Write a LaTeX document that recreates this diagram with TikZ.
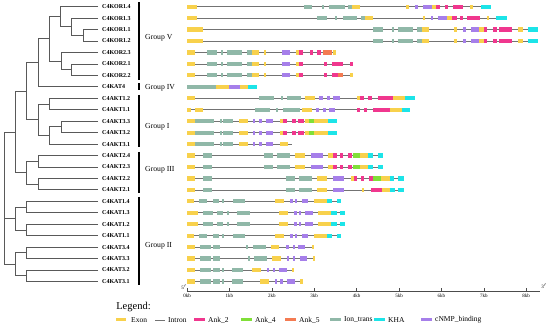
\documentclass[tikz,border=0pt]{standalone}
\usepackage{fontspec}
\setmainfont{Liberation Serif}
\usepackage{tikz}
\usetikzlibrary{calc}

% domain colours
\definecolor{exon}{HTML}{F8D14C}
\definecolor{ank2}{HTML}{F0378E}
\definecolor{ank4}{HTML}{80DF38}
\definecolor{ank5}{HTML}{F47B52}
\definecolor{iont}{HTML}{90B8A8}
\definecolor{kha}{HTML}{1CE4E8}
\definecolor{cnmp}{HTML}{A67FEA}

% one gene row: #1 row index, #2 start, #3 end, #4 boxes a/b/colour
\newcommand{\genestr}[4]{%
  \pgfmathsetmacro{\ry}{6.7+11.45*#1}
  \draw[intron] (#2,\ry) -- (#3,\ry);
  \foreach \a/\b/\c in {#4}{\fill[fill=\c] (\a,\ry-2.1) rectangle (\b,\ry+2.1);}
}

\begin{document}
\begin{tikzpicture}[x=1pt,y=-1pt,
  branch/.style={draw=black!65, line width=0.8pt},
  gname/.style={font=\fontsize{6}{7}\selectfont\bfseries, anchor=west, inner sep=0pt},
  grplbl/.style={font=\fontsize{7.7}{9}\selectfont, anchor=west, inner sep=0pt},
  grpbar/.style={line width=1.2pt},
  intron/.style={draw=black!55, line width=0.6pt},
  axislbl/.style={font=\fontsize{5}{6}\selectfont, inner sep=0pt},
  legtxt/.style={font=\fontsize{7.5}{9}\selectfont, anchor=west, inner sep=0pt}]

\useasboundingbox (0,0) rectangle (550,328);

%-------------------------------------------------------------------
% Tree: clade x / top y / bottom y / top child x / bottom child x
\foreach \x/\ya/\yb/\xa/\xb in {
    83.3/29.6/41.05/98/98, 71.7/18.15/35.3/98/83.3, 60/6.7/26.7/98/71.7,
    71.7/63.95/75.4/98/98, 61/52.5/69.7/98/71.7, 49.3/16.7/61.1/60/61,
    38.3/38.9/86.85/49.3/98,
    49.3/98.3/109.75/98/98, 61/121.2/132.65/98/98, 49.3/126.9/144.1/61/98,
    38.3/104/135.5/49.3/49.3, 26.7/62.9/119.8/38.3/38.3,
    38.3/155.55/167/98/98, 38.3/178.45/189.9/98/98, 26.7/161.3/184.2/38.3/38.3,
    15/91.3/172.7/26.7/26.7,
    26.7/201.35/212.8/98/98, 26.7/224.25/235.7/98/98, 15/207.1/230/26.7/26.7,
    26.7/247.15/258.6/98/98, 26.7/270.05/281.5/98/98, 15/252.9/275.8/26.7/26.7}{
  \draw[branch] (\xa,\ya) -- (\x,\ya) -- (\x,\yb) -- (\xb,\yb);
}
% root (three branches)
\draw[branch] (15,132) -- (4,132) -- (4,264.3) -- (15,264.3);
\draw[branch] (4,218.5) -- (15,218.5);

% gene names
\foreach \i/\n in {0/C4KOR1.4, 1/C4KOR1.3, 2/C4KOR1.1, 3/C4KOR1.2, 4/C4KOR2.3,
    5/C4KOR2.1, 6/C4KOR2.2, 7/C4KAT4, 8/C4AKT1.2, 9/C4AKT1.1, 10/C4AKT3.3,
    11/C4AKT3.2, 12/C4AKT3.1, 13/C4AKT2.4, 14/C4AKT2.3, 15/C4AKT2.2,
    16/C4AKT2.1, 17/C4KAT1.4, 18/C4KAT1.3, 19/C4KAT1.2, 20/C4KAT1.1,
    21/C4KAT3.4, 22/C4KAT3.3, 23/C4KAT3.2, 24/C4KAT3.1}{
  \node[gname] (g\i) at (102,6.7+11.45*\i) {\n};
}

% group bars
\foreach \ya/\yb/\g/\ym in {2.5/80/V/37.5, 83.5/90.5/IV/87.5, 95/147.5/I/127,
    152/193/III/170, 197/285/II/246}{
  \draw[grpbar] (139,\ya) -- (139,\yb);
  \node[grplbl] (grp\g) at (145,\ym) {Group \g};
}

%-------------------------------------------------------------------
% Gene structures
\genestr{0}{187}{491}{187/197/exon, 304/312/iont, 322/324/iont, 329/345/iont, 348/352/iont, 352/360/exon, 406/409/exon, 415/418/cnmp, 423/432/cnmp, 432/436/exon, 436/440/ank2, 445/448/ank2, 453/463/ank2, 470/473/exon, 481/491/kha}
\genestr{1}{187}{507}{187/197/exon, 317/327/iont, 335/337/iont, 343/357/iont, 361/365/iont, 365/373/exon, 423/425/exon, 431/433/cnmp, 438/447/cnmp, 447/452/exon, 452/457/ank2, 460/463/ank2, 467/480/ank2, 487/489/exon, 496/507/kha}
\foreach \r in {2,3}{
\genestr{\r}{187}{538}{187/203/exon, 373/383/iont, 392/394/iont, 398/413/iont, 417/422/iont, 422/429/exon, 454/457/exon, 463/466/cnmp, 471/479/cnmp, 479/484/exon, 484/487/ank2, 493/497/ank2, 499/512/ank2, 518/523/exon, 528/538/kha}
}
\genestr{4}{187}{336}{187/195/exon, 207/217/iont, 221/223/iont, 227/242/iont, 247/252/iont, 252/259/exon, 264/266/exon, 282/290/cnmp, 296/299/exon, 299/303/ank2, 310/313/ank2, 317/321/ank2, 323/332/ank5, 333/336/exon}
\genestr{5}{187}{353}{187/195/exon, 207/217/iont, 221/223/iont, 227/242/iont, 247/252/iont, 252/259/exon, 264/266/exon, 282/290/cnmp, 296/299/exon, 299/303/ank2, 324/327/ank2, 332/343/ank2, 350/353/ank2}
\genestr{6}{187}{353}{187/195/exon, 207/217/iont, 221/223/iont, 227/242/iont, 247/252/iont, 252/259/exon, 264/266/exon, 282/290/cnmp, 296/299/exon, 299/303/ank2, 324/327/ank2, 332/338/ank2, 338/343/ank5, 350/353/exon}
\genestr{7}{187}{257}{187/216/iont, 216/229/exon, 229/240/cnmp, 240/248/exon, 248/257/kha}
\genestr{8}{187}{415}{187/195/exon, 259/274/iont, 281/283/iont, 287/301/iont, 305/315/exon, 319/323/cnmp, 327/330/cnmp, 333/340/cnmp, 357/360/exon, 360/364/ank2, 368/372/ank2, 378/393/ank2, 393/405/exon, 405/415/kha}
\genestr{9}{187}{410}{187/191/exon, 195/203/exon, 255/270/iont, 276/278/iont, 283/300/iont, 302/312/exon, 316/319/cnmp, 323/326/cnmp, 329/335/cnmp, 357/360/ank2, 364/367/ank2, 373/390/ank2, 390/402/exon, 402/410/kha}
\foreach \r in {10,11}{
\genestr{\r}{187}{337}{187/195/exon, 195/214/iont, 220/222/iont, 223/233/iont, 239/248/exon, 253/255/cnmp, 259/262/cnmp, 266/273/cnmp, 280/283/exon, 283/287/ank2, 292/296/ank2, 298/304/ank2, 305/309/exon, 309/314/ank4, 314/328/exon, 328/337/kha}
}
\genestr{12}{187}{292}{187/195/exon, 195/214/iont, 220/222/iont, 223/233/iont, 239/248/exon, 253/255/cnmp, 259/262/cnmp, 266/273/cnmp, 280/288/exon}
\foreach \r in {13,14}{
\genestr{\r}{187}{383}{187/195/exon, 203/212/iont, 264/273/iont, 277/290/iont, 295/305/exon, 311/323/cnmp, 328/333/exon, 333/337/ank2, 340/343/ank2, 348/352/ank2, 353/360/ank4, 360/368/exon, 368/373/kha, 378/383/kha}
}
\genestr{15}{187}{404}{187/195/exon, 203/212/iont, 286/295/iont, 299/312/iont, 317/327/exon, 333/344/cnmp, 351/354/exon, 354/357/ank2, 361/364/ank2, 369/373/ank2, 373/381/ank4, 381/390/exon, 390/394/kha, 398/404/kha}
\genestr{16}{187}{404}{187/195/exon, 203/212/iont, 286/295/iont, 299/312/iont, 317/327/exon, 333/344/cnmp, 362/364/exon, 371/382/ank2, 382/390/exon, 390/395/kha, 398/404/kha}
\foreach \r in {17,20}{
\genestr{\r}{187}{341}{187/194/exon, 199/207/iont, 213/219/iont, 222/224/iont, 233/245/iont, 275/284/exon, 290/293/cnmp, 295/297/cnmp, 302/308/cnmp, 314/327/exon, 327/332/kha, 337/341/kha}
}
\foreach \r in {18,19}{
\genestr{\r}{187}{345}{187/198/exon, 203/213/iont, 217/223/iont, 227/229/iont, 237/250/iont, 279/288/exon, 294/297/cnmp, 299/301/cnmp, 305/313/cnmp, 318/331/exon, 331/337/kha, 340/345/kha}
}
\genestr{21}{187}{314}{187/195/exon, 200/211/iont, 213/220/iont, 246/248/iont, 253/266/iont, 271/279/exon, 286/289/cnmp, 293/295/cnmp, 298/305/cnmp, 312/314/exon}
\genestr{22}{187}{315}{187/195/exon, 200/211/iont, 213/220/iont, 248/250/iont, 254/267/iont, 272/281/exon, 287/289/cnmp, 293/295/cnmp, 300/307/cnmp, 313/315/exon}
\genestr{23}{187}{294}{187/195/exon, 200/211/iont, 213/220/iont, 222/224/iont, 232/243/iont, 252/261/exon, 267/269/cnmp, 273/275/cnmp, 279/287/cnmp, 292/294/exon}
\genestr{24}{187}{303}{187/195/exon, 200/211/iont, 213/220/iont, 222/224/iont, 232/243/iont, 260/269/exon, 275/277/cnmp, 280/283/cnmp, 287/295/cnmp, 300/303/exon}

%-------------------------------------------------------------------
% kb scale
\draw[black!70, line width=0.6pt] (187,291) -- (540,291);
\foreach \k in {0,...,8}{
  \draw[black!70, line width=0.5pt] (187+42.4*\k,291) -- ++(0,-3);
  \node[axislbl] (kb\k) at (187+42.4*\k,296) {\k kb};
}
\node[axislbl] (p5) at (184,287) {5$'$};
\node[axislbl] (p3) at (544,286) {3$'$};

% Legend
\node[font=\fontsize{10.5}{12}\selectfont, inner sep=0pt] (leg) at (133.5,307) {Legend:};
\fill[exon] (116,318.5) rectangle (126,321.5);
\node[legtxt] (lexon) at (131,320) {Exon};
\draw[intron, line width=0.8pt] (155,320) -- (165,320);
\node[legtxt] (lintron) at (168,320) {Intron};
\foreach \x/\c/\t in {194/ank2/Ank\_2, 241/ank4/Ank\_4, 285/ank5/Ank\_5,
    330/iont/Ion\_trans, 374/kha/KHA, 421/cnmp/cNMP\_binding}{
  \fill[fill=\c] (\x,318.5) rectangle (\x+11,321.5);
  \node[legtxt] (l\c) at (\x+14,320) {\t};
}

\end{tikzpicture}
\end{document}
